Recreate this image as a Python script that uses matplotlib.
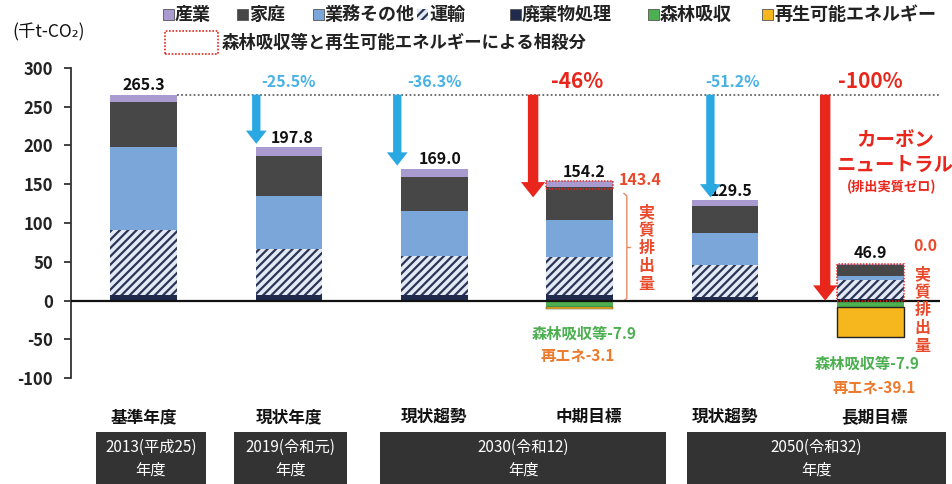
import matplotlib
matplotlib.use("Agg")
import matplotlib.pyplot as plt
from matplotlib.patches import Rectangle, FancyArrowPatch
import matplotlib.transforms as mtransforms

plt.rcParams['font.family'] = ['Noto Sans CJK JP', 'DejaVu Sans']
plt.rcParams['hatch.linewidth'] = 1.6

# ---------------- data ----------------
categories = ['基準年度', '現状年度', '現状趨勢', '中期目標', '現状趨勢', '長期目標']
year_groups = ['2013(平成25)\n年度', '2019(令和元)\n年度', '2030(令和12)\n年度', '2050(令和32)\n年度']
industry = [9.3, 12.1, 10.2, 8.2, 7.0, 1.0]
household = [57.5, 50.4, 43.6, 42.7, 35.8, 13.7]
business = [108.0, 69.1, 57.6, 47.0, 40.6, 5.0]
transport = [82.8, 58.5, 49.9, 49.0, 41.9, 25.0]
waste = [7.7, 7.7, 7.7, 7.3, 4.2, 2.2]
forest = [0, 0, 0, -7.9, 0, -7.9]
renewable = [0, 0, 0, -3.1, 0, -39.1]
reductions = ['-25.5%', '-36.3%', '-46%', '-51.2%', '-100%']
net_values = ['143.4', '0.0']
yticks = [-100, -50, 0, 50, 100, 150, 200, 250, 300]

# ---------------- style ----------------
C_IND = '#a99bd0'
C_HOU = '#474747'
C_BUS = '#7ba6d9'
C_TRA_FACE = '#e4eaf5'
C_TRA_HATCH = '#2b3556'
C_WAS = '#1f2a4d'
C_FOR = '#4caf50'
C_REN = '#f6b71e'
C_RED = '#e8261c'
C_REDTXT = '#e84a2c'
C_ORG = '#ec7a2c'
C_BLUE = '#2aa8e2'
C_BLUETXT = '#48b2e6'

W, H = 952, 484
fig = plt.figure(figsize=(W / 100, H / 100), dpi=100)
ax = fig.add_axes([71 / W, 1 - 378.3 / H, (940 - 71) / W, (378.3 - 67.7) / H])

x = list(range(len(categories)))
bw = 0.46

totals = [round(a + b + c + d + e, 1) for a, b, c, d, e in zip(waste, transport, business, household, industry)]

bottom = [0.0] * len(x)
ax.bar(x, waste, bw, bottom=bottom, color=C_WAS, linewidth=0, zorder=2)
bottom = [b + v for b, v in zip(bottom, waste)]
ax.bar(x, transport, bw, bottom=bottom, color=C_TRA_FACE, edgecolor=C_TRA_HATCH, hatch='////', linewidth=0, zorder=2)
bottom = [b + v for b, v in zip(bottom, transport)]
ax.bar(x, business, bw, bottom=bottom, color=C_BUS, linewidth=0, zorder=2)
bottom = [b + v for b, v in zip(bottom, business)]
ax.bar(x, household, bw, bottom=bottom, color=C_HOU, linewidth=0, zorder=2)
bottom = [b + v for b, v in zip(bottom, household)]
ax.bar(x, industry, bw, bottom=bottom, color=C_IND, linewidth=0, zorder=2)

# negative part
for i in x:
    if forest[i] < 0:
        ax.bar(i, forest[i], bw, bottom=0, color=C_FOR, linewidth=0, zorder=2)
    if renewable[i] < 0:
        ax.bar(i, renewable[i], bw, bottom=forest[i], color=C_REN, edgecolor='#222222',
               linewidth=1.0 if renewable[i] < -10 else 0.3, zorder=2)

# axis styling
ax.set_xlim(-0.5, 5.48)
ax.set_ylim(-100, 300)
ax.set_yticks(yticks)
ax.set_yticklabels([str(t) for t in yticks], fontsize=12, fontweight='bold', color='#222222')
ax.tick_params(axis='y', direction='out', length=5, width=1.3, pad=8, color='#333333')
ax.set_xticks([])
for s in ['top', 'right', 'bottom']:
    ax.spines[s].set_visible(False)
ax.spines['left'].set_linewidth(1.3)
ax.spines['left'].set_color('#333333')
ax.axhline(0, color='#111111', lw=1.6, zorder=3)

# reference dotted line at base year
ax.plot([0 + bw / 2, 5.48], [totals[0], totals[0]], color='#666666', lw=1.3, ls=(0, (1, 1.3)), zorder=1)

# total value labels
label_dx = [0, 0.02, 0.04, 0.03, 0.04, 0.0]
label_dy = [13, 12, 13, 12, 12, 14]
for i in x:
    ax.text(i + label_dx[i], totals[i] + label_dy[i], f'{totals[i]:.1f}', ha='center', va='center',
            fontsize=11.5, fontweight='bold', color='#111111', zorder=4)

# reduction arrows
arrow_x = [1 - 0.225, 2 - 0.255, 3 - 0.32, 4 - 0.1, 5 - 0.31]
arrow_end = [202, 174, 133, 133, 0]
arrow_col = [C_BLUE, C_BLUE, C_RED, C_BLUE, C_RED]
for ax_x, yend, col in zip(arrow_x, arrow_end, arrow_col):
    big = col == C_RED
    style = ('simple,tail_width=0.75,head_width=1.75,head_length=1.1' if big
             else 'simple,tail_width=0.6,head_width=1.5,head_length=0.95')
    arr = FancyArrowPatch((ax_x, totals[0]), (ax_x, yend), arrowstyle=style,
                          mutation_scale=10, color=col, lw=0, shrinkA=0, shrinkB=0, zorder=5)
    ax.add_patch(arr)

pct_x = [1.0, 2.0, 2.98, 4.05, 5.0]
for px_, txt, col in zip(pct_x, reductions, arrow_col):
    big = col == C_RED
    ax.text(px_, 282, txt, ha='center', va='center',
            fontsize=15 if big else 11.5, fontweight='bold',
            color=C_RED if big else C_BLUETXT, zorder=4)

# offset (dotted red) boxes
ax.add_patch(Rectangle((3 - bw / 2, float(net_values[0])), bw, totals[3] - float(net_values[0]),
                       fill=False, edgecolor=C_RED, lw=1.1, ls=(0, (1, 1)), zorder=4))
ax.add_patch(Rectangle((5 - bw / 2, 0), bw, totals[5], fill=False, edgecolor=C_RED,
                       lw=1.1, ls=(0, (1, 1)), zorder=4))

# net value labels
ax.text(3.42, 155, net_values[0], ha='center', va='center', fontsize=11.5, fontweight='bold', color=C_REDTXT)
ax.text(5.38, 71, net_values[1], ha='center', va='center', fontsize=11.5, fontweight='bold', color=C_REDTXT)

# bracket for bar 4
bx = 3.325
ax.plot([bx - 0.02, bx, bx, bx - 0.02], [138, 135, 3, 0], color='#e58a66', lw=1.0, clip_on=False)
ax.plot([bx, bx + 0.02], [69, 69], color='#e58a66', lw=1.0)

vt = '\n'.join('実質排出量')
ax.text(3.46, 68, vt, ha='center', va='center', fontsize=11.5, fontweight='bold',
        color=C_REDTXT, linespacing=1.15)
ax.text(5.36, -12, vt, ha='center', va='center', fontsize=11.5, fontweight='bold',
        color=C_REDTXT, linespacing=1.15)

# carbon neutral text
ax.text(5.17, 206, 'カーボン', ha='center', va='center', fontsize=14, fontweight='bold', color=C_RED)
ax.text(5.17, 174, 'ニュートラル', ha='center', va='center', fontsize=14, fontweight='bold', color=C_RED)
ax.text(5.15, 146, '(排出実質ゼロ)', ha='center', va='center', fontsize=9.5, fontweight='bold', color=C_RED)

# offset labels
ax.text(3.03, -43, f'森林吸収等{forest[3]}', ha='center', va='center', fontsize=11,
        fontweight='bold', color=C_FOR, clip_on=False)
ax.text(2.99, -71, f'再エネ{renewable[3]}', ha='center', va='center', fontsize=11,
        fontweight='bold', color=C_ORG, clip_on=False)
ax.text(4.98, -81, f'森林吸収等{forest[5]}', ha='center', va='center', fontsize=11,
        fontweight='bold', color=C_FOR, clip_on=False)
ax.text(5.03, -112, f'再エネ{renewable[5]}', ha='center', va='center', fontsize=11,
        fontweight='bold', color=C_ORG, clip_on=False)

# category labels and year boxes
trans = mtransforms.blended_transform_factory(ax.transData, fig.transFigure)
cat_x = [0, 1, 2, 3.06, 4, 5.03]
for cx, c in zip(cat_x, categories):
    ax.text(cx, 1 - 417 / H, c, transform=trans, ha='center', va='center', fontsize=12,
            fontweight='bold', color='#111111', clip_on=False)

box_spans = [(-0.33, 0.43), (0.623, 1.40), (1.627, 3.594), (3.74, 5.52)]
for (x0, x1), lab in zip(box_spans, year_groups):
    r = Rectangle((x0, 0), x1 - x0, 1 - 432 / H, transform=trans, facecolor='#333333',
                  edgecolor='none', clip_on=False)
    ax.add_patch(r)
    l1, l2 = lab.split('\n')
    xc = (x0 + x1) / 2
    ax.text(xc, 1 - 447 / H, l1, transform=trans, ha='center', va='center', fontsize=11,
            color='white', clip_on=False)
    ax.text(xc, 1 - 470 / H, l2, transform=trans, ha='center', va='center', fontsize=11,
            color='white', clip_on=False)

# unit label
fig.text(12 / W, 1 - 32 / H, '(千t-CO₂)', ha='left', va='center', fontsize=12.5, color='#111111')

# legend (manual)
leg_items = [('産業', C_IND, None, 163), ('家庭', C_HOU, None, 237), ('業務その他', C_BUS, None, 313),
             ('運輸', C_TRA_FACE, '////', 417), ('廃棄物処理', C_WAS, None, 510),
             ('森林吸収', C_FOR, None, 648), ('再生可能エネルギー', C_REN, None, 762)]
ly = 1 - 14 / H
for name, col, hatch, px_ in leg_items:
    sq = Rectangle((px_ / W, ly - 5.5 / H), 10.5 / W, 11 / H, transform=fig.transFigure,
                   facecolor=col, edgecolor=C_TRA_HATCH if hatch else '#555555',
                   hatch=hatch, lw=0.6 if not hatch else 0)
    fig.add_artist(sq)
    fig.text((px_ + 12) / W, ly, name, ha='left', va='center', fontsize=13, fontweight='bold',
             color='#222222')

fig.add_artist(Rectangle((165 / W, 1 - 54 / H), 53 / W, 23 / H, transform=fig.transFigure,
                         fill=False, edgecolor=C_RED, lw=1.2, ls=(0, (1, 1))))
fig.text(222 / W, 1 - 43 / H, '森林吸収等と再生可能エネルギーによる相殺分', ha='left', va='center',
         fontsize=12.5, fontweight='bold', color='#222222')

fig.savefig('out.png', dpi=100)
